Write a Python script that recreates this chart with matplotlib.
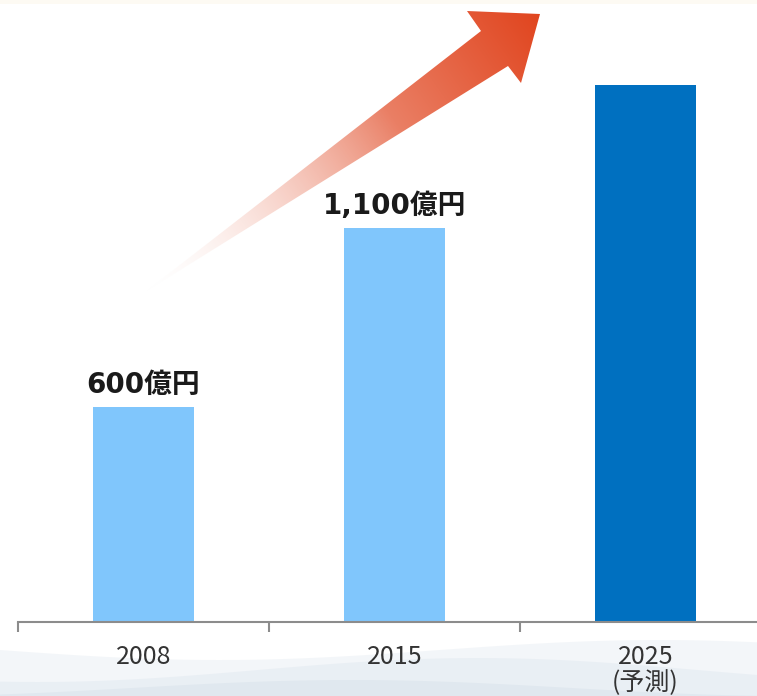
import matplotlib.pyplot as plt
import numpy as np
from matplotlib.patches import Polygon, Rectangle

plt.rcParams['font.family'] = ['Noto Sans CJK JP', 'DejaVu Sans']

# data
years = ['2008', '2015', '2025\n(予測)']
values = [600, 1100, 1500]
labels = ['600億円', '1,100億円', '']
bar_colors = ['#80C6FC', '#80C6FC', '#0070C0']

W, H = 757, 696
fig = plt.figure(figsize=(W / 100, H / 100), dpi=100)
fig.patch.set_facecolor('white')

# background layer in pixel coordinates
bg = fig.add_axes([0, 0, 1, 1], zorder=0)
bg.set_xlim(0, W)
bg.set_ylim(H, 0)
bg.axis('off')

# faint top strip
bg.add_patch(Rectangle((0, 0), W, 4, color='#FDFAF3', lw=0))

# soft waves at the bottom
xs = np.linspace(0, W, 300)
for amp, base, ph, col, a in [(10, 650, 0.0, '#E6ECF2', 0.45),
                              (12, 670, 1.3, '#DCE5EE', 0.4),
                              (8, 688, 2.2, '#D3DEE8', 0.4)]:
    ys = base + amp * np.sin(xs / 140 + ph)
    bg.fill_between(xs, ys, H, color=col, alpha=a, lw=0)

# gradient arrow
tail = np.array([145, 292])
tip = np.array([540, 14])
hl, hr = np.array([467, 11]), np.array([521, 83])
sl, sr = np.array([481, 31]), np.array([508, 66])
poly = np.array([tail, sl, hl, tip, hr, sr])
arrow = Polygon(poly, closed=True, facecolor='none', edgecolor='none')
bg.add_patch(arrow)
gx, gy = np.meshgrid(np.arange(120, 560), np.arange(0, 310))
d = tip - tail
t = ((gx - tail[0]) * d[0] + (gy - tail[1]) * d[1]) / (d @ d)
t = np.clip(t, 0, 1)
c0 = np.array([1.0, 1.0, 1.0])
c1 = np.array([0.88, 0.27, 0.12])
img = np.zeros(t.shape + (4,))
for k in range(3):
    img[..., k] = c0[k] + (c1[k] - c0[k]) * t ** 0.8
img[..., 3] = np.clip(t * 1.6, 0, 1)
im = bg.imshow(img, extent=(120, 560, 310, 0), origin='upper', zorder=2)
im.set_clip_path(arrow)
bg.set_xlim(0, W)
bg.set_ylim(H, 0)

# main bar chart
ax = fig.add_axes([18 / W, 74 / H, 753 / W, 609 / H], zorder=1)
ax.set_facecolor('none')
x = np.arange(len(years))
bars = ax.bar(x, values, width=0.4, color=bar_colors, zorder=2)
ax.set_xlim(-0.5, 2.5)
ax.set_ylim(0, 1700)

for b, lab in zip(bars, labels):
    if lab:
        ax.annotate(lab, (b.get_x() + b.get_width() / 2, b.get_height()),
                    xytext=(0, 6), textcoords='offset points',
                    ha='center', va='bottom', fontsize=20, fontweight='bold',
                    color='#1a1a1a', family=['DejaVu Sans', 'Noto Sans CJK JP'])

for s in ['left', 'top', 'right']:
    ax.spines[s].set_visible(False)
ax.spines['bottom'].set_color('#8c8c8c')
ax.spines['bottom'].set_linewidth(1.5)
ax.set_yticks([])
ax.set_xticks(x)
ax.set_xticklabels(years, fontsize=18, color='#333333', linespacing=1.0)
ax.tick_params(axis='x', length=0, pad=16)
ax.set_xticks([-0.5, 0.5, 1.5, 2.5], minor=True)
ax.tick_params(axis='x', which='minor', length=7, width=1.5, color='#8c8c8c', direction='out')

fig.savefig('out.png', dpi=100)
